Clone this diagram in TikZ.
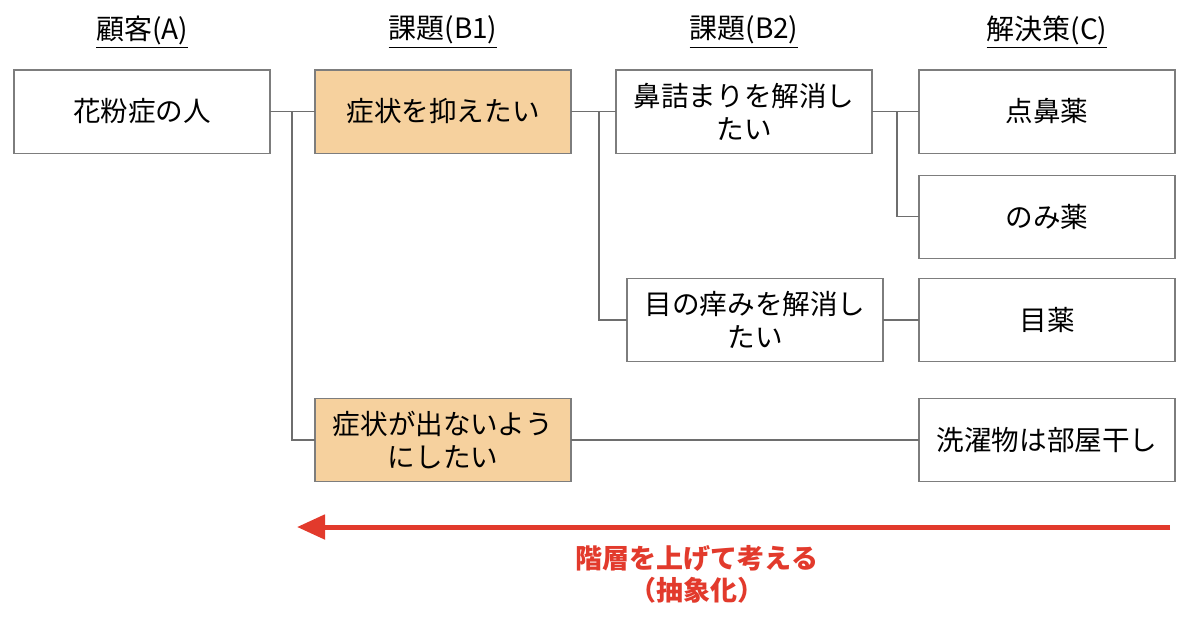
\documentclass[tikz,border=0pt]{standalone}
\usepackage{fontspec}
\setmainfont{Noto Sans CJK JP}
\usetikzlibrary{arrows.meta, positioning}
\usepackage{xcolor}
\definecolor{boxline}{RGB}{125,125,125}
\definecolor{linkgray}{RGB}{110,110,110}
\definecolor{symptom}{RGB}{246,209,158}
\definecolor{upred}{RGB}{226,58,44}

\begin{document}
\begin{tikzpicture}[
    node distance=11pt and 22.5pt,
    boxWhite/.style={
        rectangle,
        minimum width=128pt,
        minimum height=41.6pt,
        inner sep=0pt,
        outer sep=0pt,
        draw=boxline,
        line width=0.6pt,
        fill=white,
        align=center,
        font=\fontsize{13.8}{16.5}\selectfont
    },
    boxOrange/.style={
        boxWhite,
        fill=symptom
    },
    colHead/.style={font=\fontsize{14}{16}\selectfont},
    link/.style={draw=linkgray, line width=0.7pt},
    upArrow/.style={draw=upred, line width=2.5pt, -{Triangle[length=14pt,width=12pt]}}
]
\useasboundingbox (0,0) rectangle (600pt,-311pt);

% Row 1
\node[boxWhite] (A) at (71pt,-55.75pt) {花粉症の人};
\node[boxOrange, right=of A] (B1a) {症状を抑えたい};
\node[boxWhite, right=of B1a] (B2a) {鼻詰まりを解消し\\たい};
\node[boxWhite, right=23.5pt of B2a] (C1) {点鼻薬};

% Column C
\node[boxWhite, below=of C1] (C2) {のみ薬};
\node[boxWhite, below=10pt of C2] (C3) {目薬};
\node[boxWhite, left=18pt of C3] (B2b) {目の痒みを解消し\\たい};
\node[boxWhite, below=18.5pt of C3] (C4) {洗濯物は部屋干し};
\node[boxOrange] (B1b) at (B1a |- C4) {症状が出ないよう\\にしたい};

% Headers
\coordinate (headY) at (0,-16pt);
\node[colHead] (hA) at (A |- headY) {\underline{顧客(A)}};
\node[colHead] (hB1) at (B1a |- headY) {\underline{課題(B1)}};
\node[colHead] (hB2) at (B2a |- headY) {\underline{課題(B2)}};
\node[colHead] (hC) at (C1 |- headY) {\underline{解決策(C)}};

% Tree links
\coordinate (jA) at ([xshift=11pt]A.east);
\coordinate (jB1) at ([xshift=14pt]B1a.east);
\coordinate (jB2) at ([xshift=12.5pt]B2a.east);
\draw[link] (A.east) -- (B1a.west);
\draw[link] (jA) |- (B1b.west);
\draw[link] (B1a.east) -- (B2a.west);
\draw[link] (jB1) |- (B2b.west);
\draw[link] (B2a.east) -- (C1.west);
\draw[link] (jB2) |- (C2.west);
\draw[link] (B2b.east) -- (C3.west);
\draw[link] (B1b.east) -- (C4.west);

% Abstraction arrow
\coordinate (arrStart) at (585pt,-263.5pt);
\coordinate (arrEnd) at (148.5pt,-263.5pt);
\draw[upArrow] (arrStart) -- (arrEnd);
\node[text=upred, align=center, font=\fontsize{13.5}{16}\selectfont\bfseries] (abstr) at (348.5pt,-287pt) {階層を上げて考える\\（抽象化）};

\end{tikzpicture}
\end{document}
